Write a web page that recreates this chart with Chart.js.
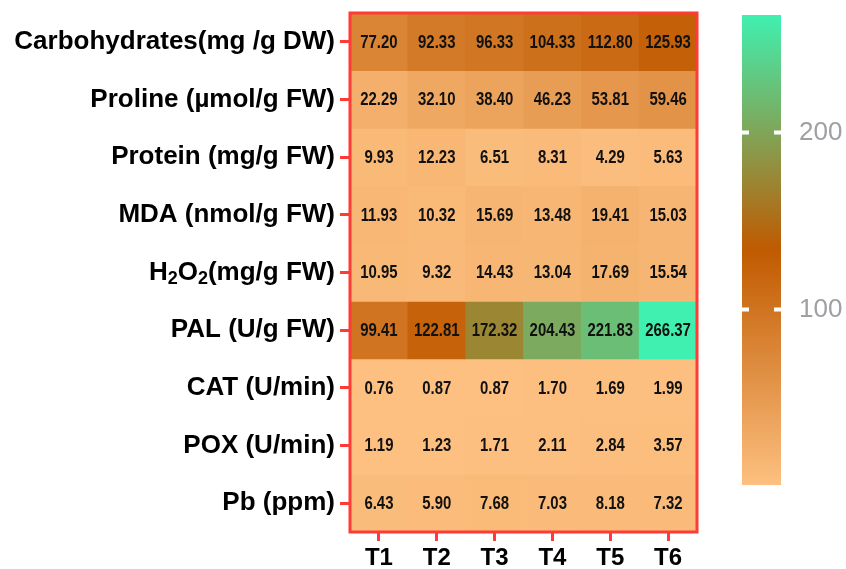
<!DOCTYPE html>
<html>
<head>
<meta charset="utf-8">
<script src="https://cdn.jsdelivr.net/npm/chart.js@4.4.1/dist/chart.umd.min.js"></script>
<style>
  html, body { margin: 0; padding: 0; background: #ffffff; }
  #wrap { position: relative; width: 846px; height: 569px; }
  #heat { position: absolute; left: 0; top: 0; }
  #bar { position: absolute; left: 720px; top: 0; }
</style>
</head>
<body>
<div id="wrap">
  <canvas id="heat" width="720" height="569"></canvas>
  <canvas id="bar" width="126" height="569"></canvas>
</div>
<script>
// ---------- Datos ----------
var tratamientos = ['T1', 'T2', 'T3', 'T4', 'T5', 'T6'];

var filas = [
  'Carbohydrates(mg /g DW)',
  'Proline (\u00b5mol/g FW)',
  'Protein (mg/g FW)',
  'MDA (nmol/g FW)',
  'H2O2(mg/g FW)',
  'PAL (U/g FW)',
  'CAT (U/min)',
  'POX (U/min)',
  'Pb (ppm)'
];

var carbohydrates = [77.20, 92.33, 96.33, 104.33, 112.80, 125.93];
var proline       = [22.29, 32.10, 38.40, 46.23, 53.81, 59.46];
var protein       = [9.93, 12.23, 6.51, 8.31, 4.29, 5.63];
var mda           = [11.93, 10.32, 15.69, 13.48, 19.41, 15.03];
var h2o2          = [10.95, 9.32, 14.43, 13.04, 17.69, 15.54];
var pal           = [99.41, 122.81, 172.32, 204.43, 221.83, 266.37];
var cat           = [0.76, 0.87, 0.87, 1.70, 1.69, 1.99];
var pox           = [1.19, 1.23, 1.71, 2.11, 2.84, 3.57];
var pb            = [6.43, 5.90, 7.68, 7.03, 8.18, 7.32];

var valores = [carbohydrates, proline, protein, mda, h2o2, pal, cat, pox, pb];

var colorbarTicks = [100, 200];

// ---------- Colores ----------
var C_BAJO = [253, 192, 128];
var C_MEDIO = [192, 90, 0];
var C_ALTO = [64, 240, 176];
var ROJO = '#ff3b36';
var FUENTE = '"Liberation Sans", Arial, sans-serif';

var todos = [].concat.apply([], valores);
var vMin = Math.min.apply(null, todos);
var vMax = Math.max.apply(null, todos);
var vMed = (vMin + vMax) / 2;

function _mezcla(a, b, t) {
  return 'rgb(' + Math.round(a[0] + (b[0] - a[0]) * t) + ',' +
    Math.round(a[1] + (b[1] - a[1]) * t) + ',' +
    Math.round(a[2] + (b[2] - a[2]) * t) + ')';
}

function colorDe(v) {
  if (v <= vMed) return _mezcla(C_BAJO, C_MEDIO, (v - vMin) / (vMed - vMin));
  return _mezcla(C_MEDIO, C_ALTO, (v - vMed) / (vMax - vMed));
}

// ---------- Heatmap ----------
var datasets = valores.map(function (fila, i) {
  return {
    label: filas[i],
    data: fila.map(function () { return 1; }),
    valores: fila,
    backgroundColor: fila.map(colorDe),
    borderWidth: 0,
    barPercentage: 1,
    categoryPercentage: 1
  };
});

var etiquetasCeldas = {
  id: 'etiquetasCeldas',
  afterDatasetsDraw: function (chart) {
    var ctx = chart.ctx;
    ctx.save();
    ctx.fillStyle = '#111111';
    ctx.font = 'bold 18px ' + FUENTE;
    ctx.textAlign = 'center';
    ctx.textBaseline = 'middle';
    chart.data.datasets.forEach(function (ds, i) {
      var meta = chart.getDatasetMeta(i);
      meta.data.forEach(function (el, j) {
        var yc = (el.y + el.base) / 2;
        // texto condensado (no hay Arial Narrow instalada)
        ctx.save();
        ctx.translate(el.x, yc + 1);
        ctx.scale(0.83, 1);
        ctx.fillText(ds.valores[j].toFixed(2), 0, 0);
        ctx.restore();
      });
    });

    // marco rojo
    var a = chart.chartArea;
    ctx.strokeStyle = ROJO;
    ctx.lineWidth = 3;
    ctx.strokeRect(a.left, a.top, a.right - a.left, a.bottom - a.top);

    // etiquetas de filas (con subindice en H2O2)
    var ys = chart.scales.y;
    var xDer = a.left - 15;
    ctx.fillStyle = '#000000';
    ctx.textAlign = 'left';
    ctx.textBaseline = 'middle';
    filas.forEach(function (txt, i) {
      var y = ys.getPixelForValue(i + 0.5);
      var partes;
      if (txt === 'H2O2(mg/g FW)') {
        partes = [['H', 0], ['2', 1], ['O', 0], ['2', 1], ['(mg/g FW)', 0]];
      } else {
        partes = [[txt, 0]];
      }
      var ancho = 0;
      partes.forEach(function (p) {
        ctx.font = p[1] ? 'bold 18px ' + FUENTE : 'bold 26px ' + FUENTE;
        p.push(ctx.measureText(p[0]).width);
        ancho += p[2];
      });
      var x = xDer - ancho;
      partes.forEach(function (p) {
        ctx.font = p[1] ? 'bold 18px ' + FUENTE : 'bold 26px ' + FUENTE;
        ctx.fillText(p[0], x, y + (p[1] ? 7 : 0));
        x += p[2];
      });
    });
    ctx.restore();
  }
};

new Chart(document.getElementById('heat'), {
  type: 'bar',
  data: { labels: tratamientos, datasets: datasets },
  options: {
    responsive: false,
    animation: false,
    layout: { padding: { top: 13, right: 23, left: 0, bottom: 0 } },
    plugins: { legend: { display: false }, tooltip: { enabled: false } },
    scales: {
      x: {
        stacked: true,
        grid: { offset: false, drawOnChartArea: false, drawTicks: true, tickLength: 9, color: ROJO, lineWidth: 3 },
        border: { display: false },
        ticks: {
          color: '#000000',
          padding: 3,
          font: { family: FUENTE, size: 24, weight: 'bold' }
        },
        afterFit: function (s) { s.height = 37; }
      },
      y: {
        stacked: true,
        reverse: true,
        min: 0,
        max: filas.length,
        grid: { drawOnChartArea: false, drawTicks: true, tickLength: 10, color: ROJO, lineWidth: 3 },
        border: { display: false },
        ticks: { display: false },
        afterBuildTicks: function (s) {
          s.ticks = filas.map(function (f, i) { return { value: i + 0.5 }; });
        },
        afterFit: function (s) { s.width = 350; }
      }
    }
  },
  plugins: [etiquetasCeldas]
});

// ---------- Barra de color ----------
var muescas = {
  id: 'muescas',
  afterDatasetsDraw: function (chart) {
    var ctx = chart.ctx;
    var a = chart.chartArea;
    var ys = chart.scales.y;
    ctx.save();
    ctx.strokeStyle = '#ffffff';
    ctx.lineWidth = 4;
    colorbarTicks.forEach(function (v) {
      var y = ys.getPixelForValue(v);
      ctx.beginPath();
      ctx.moveTo(a.left, y); ctx.lineTo(a.left + 7, y);
      ctx.moveTo(a.right - 7, y); ctx.lineTo(a.right, y);
      ctx.stroke();
    });
    ctx.restore();
  }
};

new Chart(document.getElementById('bar'), {
  type: 'bar',
  data: {
    labels: [''],
    datasets: [{
      data: [[vMin, vMax]],
      borderWidth: 0,
      barPercentage: 1,
      categoryPercentage: 1,
      backgroundColor: function (ctx) {
        var a = ctx.chart.chartArea;
        if (!a) return '#fdc080';
        var g = ctx.chart.ctx.createLinearGradient(0, a.bottom, 0, a.top);
        g.addColorStop(0, colorDe(vMin));
        g.addColorStop(0.5, colorDe(vMed));
        g.addColorStop(1, colorDe(vMax));
        return g;
      }
    }]
  },
  options: {
    responsive: false,
    animation: false,
    layout: { padding: { top: 15, bottom: 84, left: 22, right: 0 } },
    plugins: { legend: { display: false }, tooltip: { enabled: false } },
    scales: {
      x: { display: false },
      y: {
        position: 'right',
        min: vMin,
        max: vMax,
        grid: { display: false, drawTicks: false },
        border: { display: false },
        ticks: {
          color: '#a0a0a4',
          padding: 18,
          font: { family: FUENTE, size: 26 }
        },
        afterBuildTicks: function (s) {
          s.ticks = colorbarTicks.map(function (v) { return { value: v }; });
        },
        afterFit: function (s) { s.width = 65; s.paddingTop = 0; s.paddingBottom = 0; }
      }
    }
  },
  plugins: [muescas]
});
</script>
</body>
</html>
